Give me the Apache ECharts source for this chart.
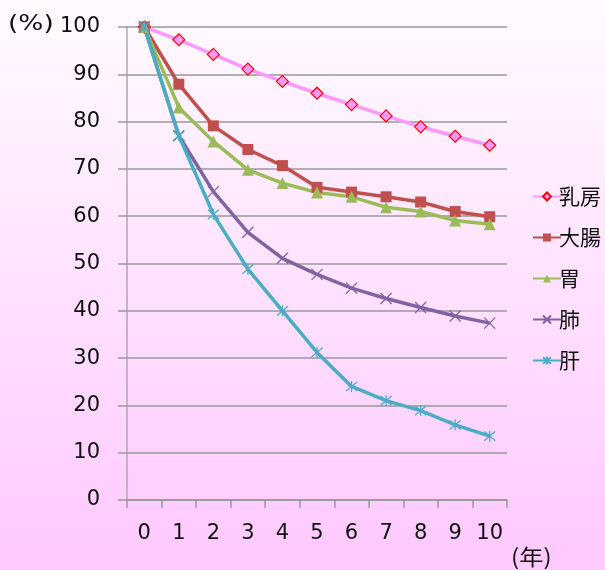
<!DOCTYPE html>
<html><head><meta charset="utf-8">
<script src="https://cdn.jsdelivr.net/npm/echarts@6/dist/echarts.min.js"></script>
<style>html,body{margin:0;padding:0;}#c{width:605px;height:570px;}</style>
</head><body><div id="c"></div>
<script>
const years = ['0','1','2','3','4','5','6','7','8','9','10'];
const yTicks = [0,10,20,30,40,50,60,70,80,90,100];
const seriesNames = ['乳房','大腸','胃','肺','肝'];
const breast = [100, 97.3, 94.2, 91.1, 88.5, 86.0, 83.6, 81.2, 78.9, 76.9, 75.0];
const colon  = [100, 87.9, 79.1, 74.1, 70.7, 66.1, 65.1, 64.1, 63.0, 61.0, 59.9];
const stomach= [100, 83.0, 75.8, 69.8, 67.0, 65.0, 64.1, 61.9, 61.0, 59.1, 58.3];
const lung   = [100, 77.0, 65.2, 56.6, 51.1, 47.7, 44.8, 42.6, 40.7, 38.9, 37.4];
const liver  = [100, 77.0, 60.4, 48.8, 40.0, 31.2, 24.0, 21.0, 18.9, 15.9, 13.5];

const FONT = 'DejaVu Sans';
const CJK = 'Noto Sans CJK JP';
const crossPath = 'path://M0,0L10,10M10,0L0,10';
const starPath = 'path://M0,0L10,10M10,0L0,10M5,-1L5,11';

function mk(name, data, color, symbol, size, itemStyle){
  return {
    name, type:'line', data, symbol, symbolSize:size, showSymbol:true,
    lineStyle:{color, width:3.5},
    itemStyle: itemStyle || {color},
    emphasis:{disabled:true}, animation:false
  };
}

const chart = echarts.init(document.getElementById('c'), null, {renderer:'canvas'});
chart.setOption({
  animation:false,
  backgroundColor:{type:'linear',x:0,y:0,x2:0,y2:1,colorStops:[{offset:0,color:'#fffbff'},{offset:1,color:'#ffc8ff'}]},
  grid:{left:127, right:98, top:27, bottom:70, containLabel:false},
  xAxis:{
    type:'category', data:years, boundaryGap:true,
    axisLine:{show:true, lineStyle:{color:'#999999', width:1.5}},
    axisTick:{show:true, length:8, alignWithLabel:false, interval:0, lineStyle:{color:'#999999', width:1.5}},
    axisLabel:{fontFamily:FONT, fontSize:21, color:'#111', margin:23, interval:0},
    splitLine:{show:false}
  },
  yAxis:{
    type:'value', min:0, max:100, interval:10,
    axisLine:{show:true, lineStyle:{color:'#aaaaaa', width:1.5}},
    axisTick:{show:true, length:9, lineStyle:{color:'#999999', width:1.5}},
    axisLabel:{fontFamily:FONT, fontSize:21, color:'#111', margin:27},
    splitLine:{show:true, lineStyle:{color:'#999999', width:1.5}}
  },
  legend:{
    orient:'vertical', left:527, top:181, itemGap:20,
    itemWidth:28, itemHeight:10,
    textStyle:{fontFamily:CJK, fontSize:21, color:'#111', padding:[0,0,0,-7]},
    data:seriesNames
  },
  graphic:[
    {type:'text', x:8, y:13, scaleX:1.2, style:{text:'(%)', font:'22px "DejaVu Sans"', fill:'#111'}},
    {type:'text', x:511, y:546, scaleX:1.1, style:{text:'(年)', font:'22px "Noto Sans CJK JP"', fill:'#111'}}
  ],
  series:[
    mk(seriesNames[0], breast, '#ff99ff', 'diamond', 12, {color:'#ff99ff', borderColor:'#ff0000', borderWidth:1.2}),
    mk(seriesNames[1], colon, '#c0504d', 'rect', 11),
    mk(seriesNames[2], stomach, '#9bbb59', 'triangle', 12),
    mk(seriesNames[3], lung, '#8064a2', crossPath, 11, {color:'none', borderColor:'#8064a2', borderWidth:1.3}),
    mk(seriesNames[4], liver, '#4bacc6', starPath, 11, {color:'none', borderColor:'#4bacc6', borderWidth:1.3})
  ]
});
</script></body></html>
